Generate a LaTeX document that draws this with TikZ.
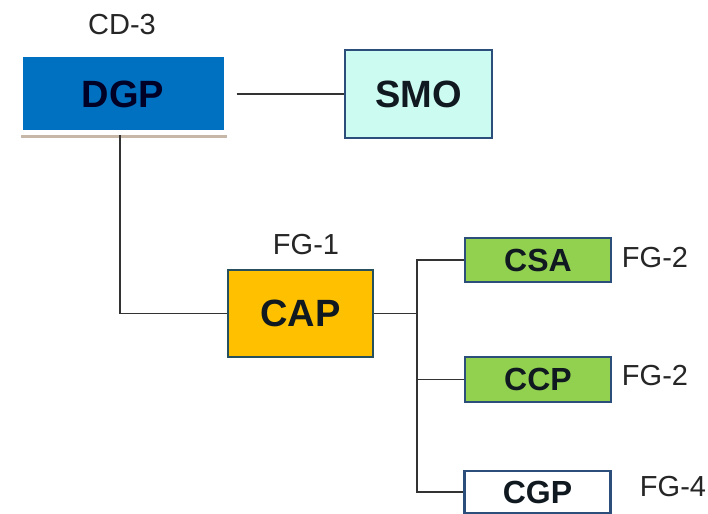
\documentclass[tikz,border=0pt]{standalone}
\usepackage{fontspec}
\setmainfont{Liberation Sans}
\usetikzlibrary{shadows}
\definecolor{dgpblue}{HTML}{0070C0}
\definecolor{smofill}{HTML}{CCFBF1}
\definecolor{boxedge}{HTML}{2B4F7A}
\definecolor{capfill}{HTML}{FFC000}
\definecolor{capedge}{HTML}{27505E}
\definecolor{grnfill}{HTML}{92D050}
\definecolor{txtdark}{HTML}{101820}
\definecolor{linec}{HTML}{333333}
\tikzset{
  bigbox/.style={rectangle, inner sep=0pt, font=\fontsize{38}{40}\selectfont\bfseries, text=txtdark},
  smallbox/.style={rectangle, inner sep=0pt, minimum width=146pt, font=\fontsize{32}{34}\selectfont\bfseries, text=txtdark, draw=boxedge, line width=2.5pt},
  tag/.style={font=\fontsize{29}{31}\selectfont, text=black!85, inner sep=0pt},
  conn/.style={draw=linec, line width=1.5pt}
}
\begin{document}
\begin{tikzpicture}[x=1pt,y=-1pt]
\clip (0,0) rectangle (708,513);
\fill[white] (0,0) rectangle (708,513);
% boxes
\node[bigbox, minimum width=206pt, minimum height=78pt, fill=dgpblue, draw=white, line width=5pt,
  drop shadow={shadow xshift=1pt, shadow yshift=-5pt, fill=brown!60!black, opacity=0.4}, text=black!85!blue] (DGP) at (123,94) {DGP};
\node[bigbox, minimum width=147pt, minimum height=88pt, fill=smofill, draw=boxedge, line width=2.5pt] (SMO) at (418.5,94) {SMO};
\node[bigbox, minimum width=145pt, minimum height=87pt, fill=capfill, draw=capedge, line width=2.5pt] (CAP) at (300.5,313.5) {CAP};
\node[smallbox, minimum height=44pt, fill=grnfill] (CSA) at (538,260) {CSA};
\node[smallbox, minimum height=45pt, fill=grnfill] (CCP) at (538,379.5) {CCP};
\node[smallbox, minimum height=42pt, fill=white] (CGP) at (537.5,492) {CGP};
% tags
\node[tag] (t1) at (122,25) {CD-3};
\node[tag] (t2) at (306,245) {FG-1};
\node[tag] (t3) at (655,258) {FG-2};
\node[tag] (t4) at (655,376) {FG-2};
\node[tag] (t5) at (673,487) {FG-4};
% connectors
\coordinate (bus) at (417,313.5);
\draw[conn, shorten <=8pt] (DGP.east) -- (SMO.west);
\draw[conn] ([xshift=-3pt]DGP.south) |- (CAP.west);
\draw[conn] (CAP.east) -- (bus);
\draw[conn] (CSA.west) -| (bus) |- (CGP.west);
\draw[conn] (bus) |- (CCP.west);
\end{tikzpicture}
\end{document}
